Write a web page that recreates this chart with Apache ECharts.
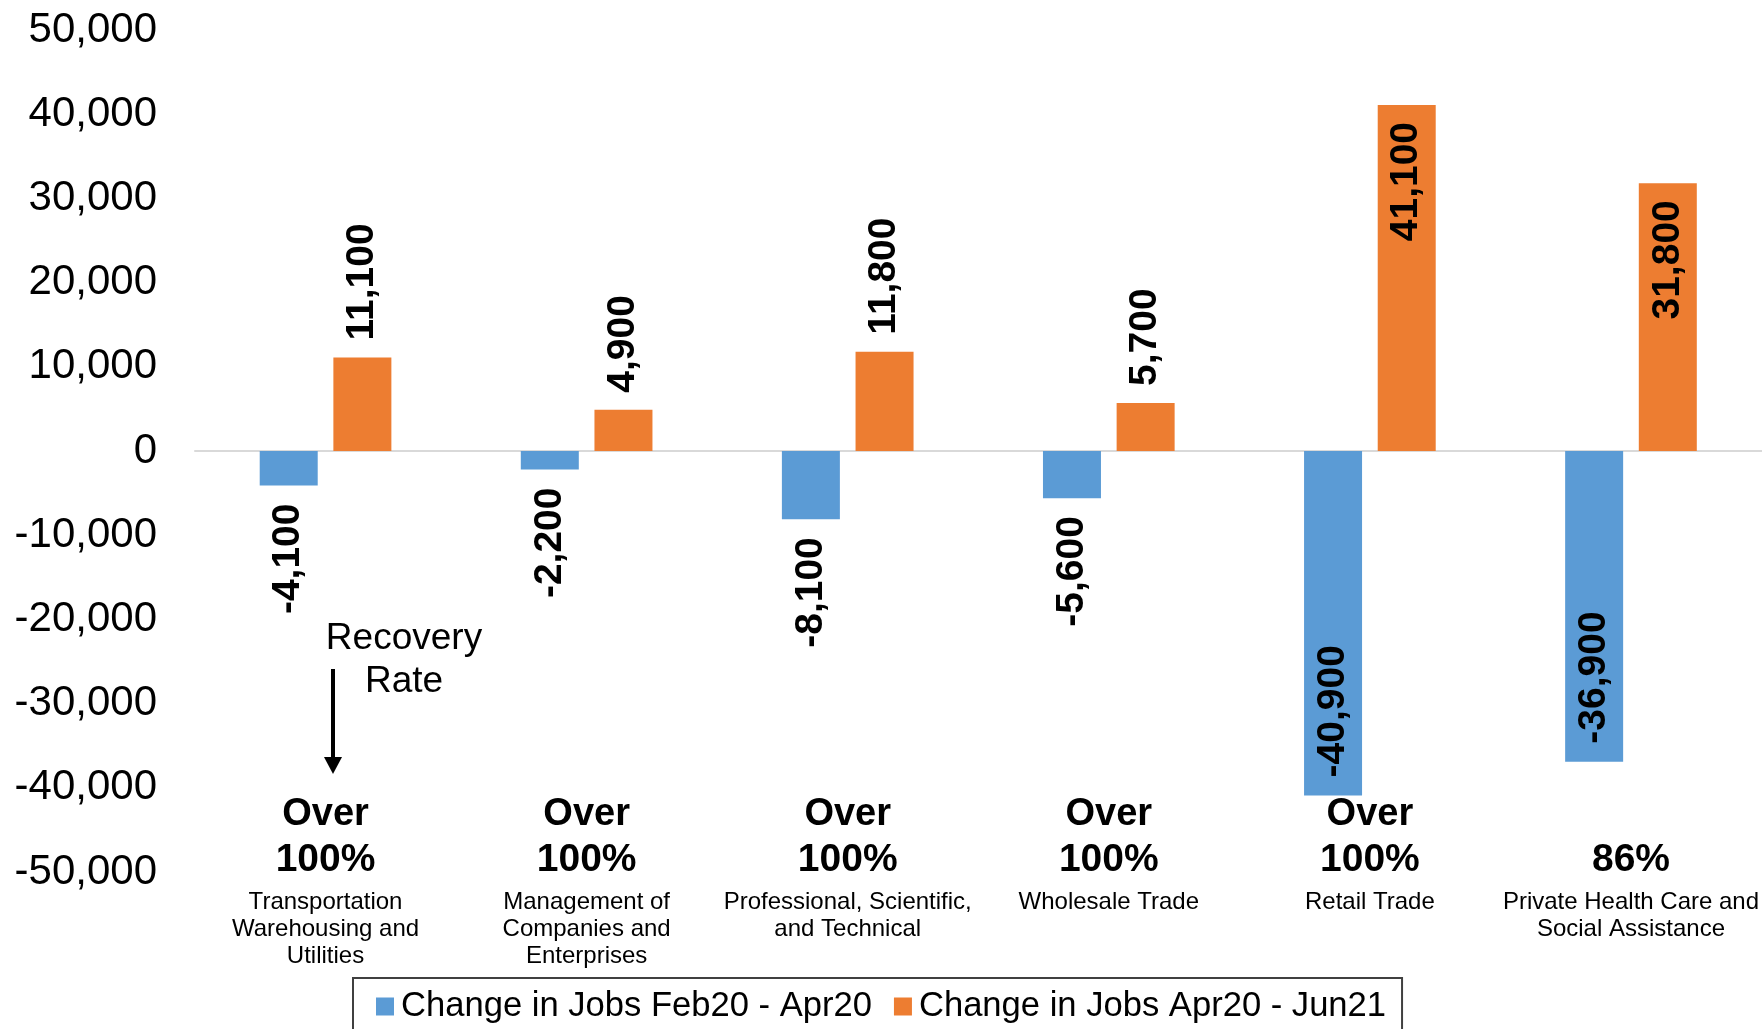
<!DOCTYPE html>
<html>
<head>
<meta charset="utf-8">
<script src="https://cdn.jsdelivr.net/npm/echarts@6/dist/echarts.min.js"></script>
<style>
  html, body { margin: 0; padding: 0; background: #ffffff; }
  #chart { width: 1762px; height: 1029px; }
</style>
</head>
<body>
<div id="chart"></div>
<script>
// ---- Data ----
const categories = [
  'Transportation\nWarehousing and\nUtilities',
  'Management of\nCompanies and\nEnterprises',
  'Professional, Scientific,\nand Technical',
  'Wholesale Trade',
  'Retail Trade',
  'Private Health Care and\nSocial Assistance'
];
const recoveryRates = ['Over\n100%', 'Over\n100%', 'Over\n100%', 'Over\n100%', 'Over\n100%', '86%'];
const seriesNames = ['Change in Jobs Feb20 - Apr20', 'Change in Jobs Apr20 - Jun21'];
const jobsFeb20Apr20 = [-4100, -2200, -8100, -5600, -40900, -36900];
const jobsApr20Jun21 = [11100, 4900, 11800, 5700, 41100, 31800];
const yTickValues = [-50000, -40000, -30000, -20000, -10000, 0, 10000, 20000, 30000, 40000, 50000];
const yTickLabels = ['-50,000', '-40,000', '-30,000', '-20,000', '-10,000', '0', '10,000', '20,000', '30,000', '40,000', '50,000'];
const annotationText = 'Recovery\nRate';

// ---- Styling ----
const FONT = '"Liberation Sans", Arial, sans-serif';
const BLUE = '#5B9BD5';
const ORANGE = '#ED7D31';

function fmt(v) { return v.toLocaleString('en-US'); }

function barItems(values) {
  return values.map(v => {
    const inside = Math.abs(v) > 30000;
    let label;
    if (v >= 0) {
      label = inside
        ? { position: 'insideTop', distance: 17, align: 'right' }
        : { position: 'top', distance: 17, align: 'left' };
    } else {
      label = inside
        ? { position: 'insideBottom', distance: 18, align: 'left' }
        : { position: 'bottom', distance: 18, align: 'right' };
    }
    return { value: v, label: label };
  });
}

const labelCommon = {
  show: true,
  rotate: 90,
  verticalAlign: 'middle',
  color: '#000',
  fontFamily: FONT,
  fontWeight: 'bold',
  fontSize: 39,
  formatter: p => fmt(p.value)
};

const chart = echarts.init(document.getElementById('chart'), null, { renderer: 'canvas' });

const option = {
  animation: false,
  backgroundColor: '#ffffff',
  textStyle: { fontFamily: FONT },
  grid: { left: 195, right: 0, top: 30, bottom: 157, containLabel: false },
  legend: {
    data: seriesNames,
    left: 353,
    top: 978,
    orient: 'horizontal',
    icon: 'rect',
    itemWidth: 18,
    itemHeight: 18,
    itemGap: 22,
    padding: [11, 16, 30, 23],
    borderColor: '#404040',
    borderWidth: 2,
    textStyle: { fontFamily: FONT, fontSize: 34.6, color: '#000', padding: [0, 0, 0, 2] }
  },
  xAxis: [
    {
      type: 'category',
      data: categories,
      position: 'bottom',
      axisLine: { show: true, onZero: true, lineStyle: { color: '#d9d9d9', width: 2 } },
      axisTick: { show: false },
      axisLabel: { show: false },
      splitLine: { show: false }
    },
    {
      type: 'category',
      data: categories,
      position: 'bottom',
      offset: -81,
      axisLine: { show: false, onZero: false },
      axisTick: { show: false },
      splitLine: { show: false },
      axisLabel: {
        show: true,
        interval: 0,
        margin: 0,
        color: '#000',
        fontFamily: FONT,
        formatter: function (value, index) {
          const parts = recoveryRates[index].split('\n');
          const top = parts.length > 1 ? parts[0] : ' ';
          const pct = parts.length > 1 ? parts[1] : parts[0];
          return '{r1|' + top + '}\n{r2|' + pct + '}\n{gap| }\n{n|' + value + '}';
        },
        rich: {
          r1: { fontFamily: FONT, fontSize: 38, fontWeight: 'bold', lineHeight: 47, color: '#000', align: 'center' },
          r2: { fontFamily: FONT, fontSize: 39, fontWeight: 'bold', lineHeight: 45, color: '#000', align: 'center' },
          gap: { fontSize: 4, lineHeight: 6 },
          n: { fontFamily: FONT, fontSize: 24, lineHeight: 27, color: '#000', align: 'center' }
        }
      }
    }
  ],
  yAxis: {
    type: 'value',
    min: -50000,
    max: 50000,
    interval: 10000,
    axisLine: { show: false },
    axisTick: { show: false },
    splitLine: { show: false },
    axisLabel: {
      margin: 38,
      color: '#000',
      fontFamily: FONT,
      fontSize: 42,
      padding: [5, 0, 0, 0],
      formatter: function (v) {
        const i = yTickValues.indexOf(v);
        return i >= 0 ? yTickLabels[i] : '';
      }
    }
  },
  series: [
    {
      name: seriesNames[0],
      type: 'bar',
      xAxisIndex: 0,
      barWidth: 58,
      barGap: '27%',
      itemStyle: { color: BLUE },
      label: labelCommon,
      data: barItems(jobsFeb20Apr20)
    },
    {
      name: seriesNames[1],
      type: 'bar',
      xAxisIndex: 0,
      barWidth: 58,
      barGap: '27%',
      itemStyle: { color: ORANGE },
      label: labelCommon,
      data: barItems(jobsApr20Jun21)
    }
  ],
  graphic: [
    {
      type: 'text',
      x: 404,
      y: 617,
      style: {
        text: annotationText,
        align: 'center',
        verticalAlign: 'top',
        fontFamily: FONT,
        fontSize: 37,
        lineHeight: 43,
        fill: '#000'
      }
    },
    {
      type: 'line',
      shape: { x1: 333, y1: 669, x2: 333, y2: 760 },
      style: { stroke: '#000', lineWidth: 4 }
    },
    {
      type: 'polygon',
      shape: { points: [[324, 757], [342, 757], [333, 774]] },
      style: { fill: '#000' }
    }
  ]
};

chart.setOption(option);
</script>
</body>
</html>
